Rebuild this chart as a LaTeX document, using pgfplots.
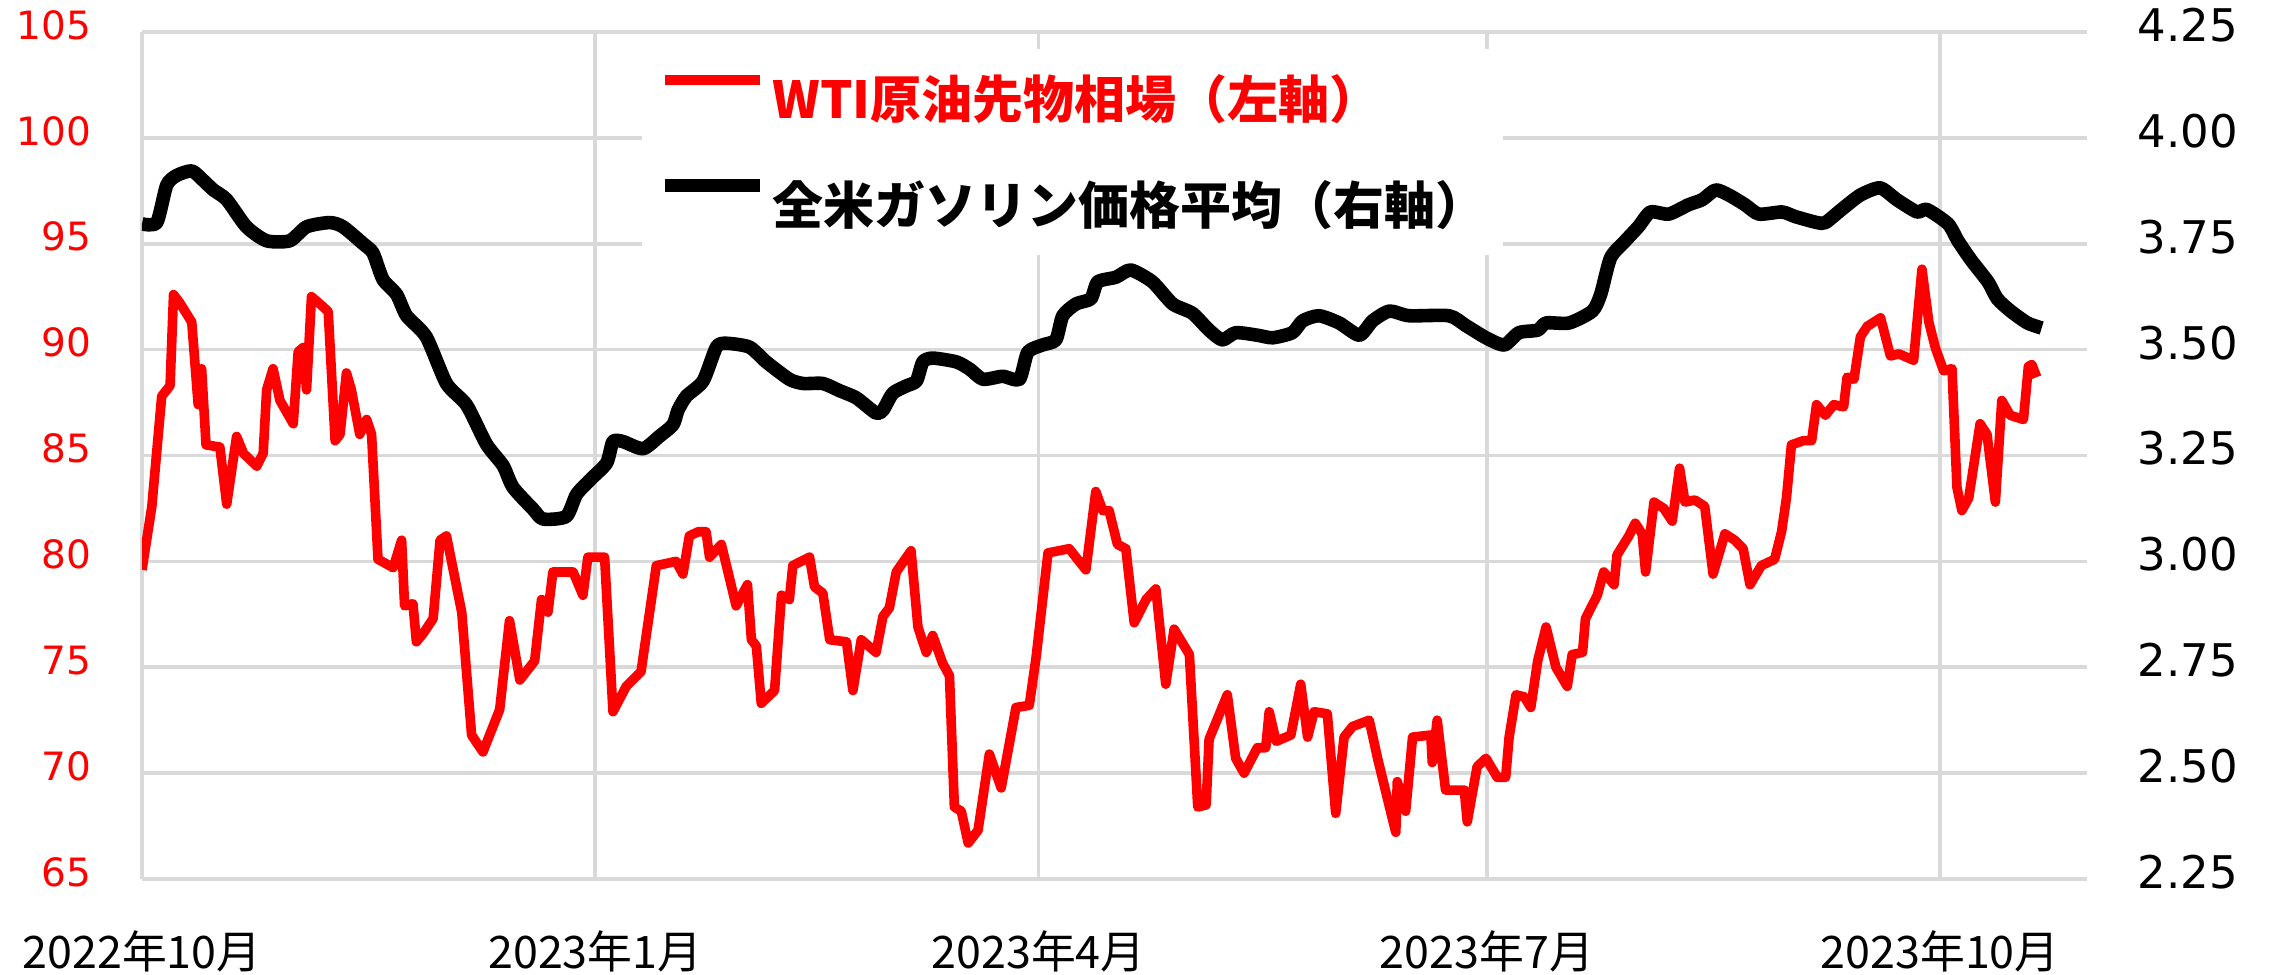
\documentclass[border=0pt]{standalone}
\usepackage{pgfplots}
\pgfplotsset{compat=1.18}
\usepackage{fontspec}
\setmainfont{DejaVu Sans}
\newfontfamily\jp{Noto Sans CJK JP}
\definecolor{gridgray}{HTML}{D9D9D9}
\definecolor{wtired}{HTML}{FF0000}
\begin{document}
\begin{tikzpicture}
\begin{axis}[
  at={(0,0)}, anchor=south west,
  scale only axis, width=486.25pt, height=211.75pt,
  xmin=0, xmax=394.8, ymin=65, ymax=105,
  xtick={0,92,182,273,365},
  xticklabels={2022年10月,2023年1月,2023年4月,2023年7月,2023年10月},
  ytick={65,70,75,80,85,90,95,100,105},
  yticklabels={65,70,75,80,85,90,95,100,105},
  axis x line*=bottom, axis y line*=left,
  axis line style={draw=gridgray, line width=0.9pt, -},
  grid=major, grid style={draw=gridgray, line width=0.9pt},
  major tick length=0pt,
  xticklabel style={font=\jp\fontsize{11.2pt}{11.2pt}\selectfont, anchor=base, inner sep=0pt, yshift=-22.25pt},
  yticklabel style={font=\fontsize{9.75pt}{9.75pt}\selectfont, text=wtired, anchor=east, inner sep=0pt, xshift=-12.5pt, yshift=1.75pt},
]
\addplot[wtired, line width=2.4pt, line join=round] coordinates {
(0,79.6)(2,82.6)(4,87.8)(5.7,88.3)(6.4,92.6)(7.7,92.2)(10.1,91.3)(11.4,87.4)(12.1,89.1)(13,85.5)(15.8,85.4)(17.2,82.7)(19.2,85.9)(20.6,85.1)(23.3,84.5)(24.6,85.1)(25.3,88.1)(26.6,89.1)(28,87.6)(30.7,86.5)(31.7,89.9)(32.7,90.1)(33.4,88.1)(34.4,92.5)(36.4,92.1)(37.8,91.8)(39.2,85.7)(40.2,86.0)(41.5,88.9)(42.5,88.1)(44.2,86.0)(45.6,86.7)(46.6,86.0)(47.9,80.1)(51,79.7)(52.7,81.0)(53.3,77.9)(55,78.0)(55.7,76.2)
(57.1,76.6)(59.1,77.3)(60.5,81.0)(61.8,81.2)(64.9,77.6)(66.9,71.8)(69.2,71.0)(72.6,73.0)(74.6,77.2)(76.7,74.4)(79.7,75.3)(81.1,78.2)(82.4,77.6)(83.4,79.5)(87.5,79.5)(89.5,78.4)(90.5,80.2)(93.9,80.2)(95.6,72.9)(98.3,74.1)(101.3,74.8)(104.4,79.8)(108.4,80.0)(109.8,79.4)(111.1,81.2)(112.9,81.4)
(114.5,81.4)(115.2,80.2)(117.6,80.8)(120.6,77.9)(122.9,78.9)(123.7,76.3)(124.7,76.0)(125.7,73.3)(128.4,73.9)(129.8,78.4)(131.4,78.2)(132.1,79.8)(135.5,80.2)(136.5,78.8)(138.2,78.5)(139.6,76.3)(143,76.2)(144.3,73.9)(146,76.3)(149,75.7)(150.4,77.4)(151.7,77.8)(153.1,79.5)(156.1,80.5)(157.5,76.9)(159.2,75.7)(160.5,76.5)(162.5,75.2)(163.9,74.6)(164.9,68.4)(166.3,68.2)(167.7,66.7)(169.7,67.3)
(172,70.9)(174.4,69.3)(177.4,73.1)(180.1,73.2)(181.5,75.5)(183.9,80.4)(188.2,80.6)(191.6,79.6)(193.6,83.3)(195,82.4)(196.3,82.4)(198,80.8)(199.7,80.6)(201.4,77.1)(203.8,78.2)(205.8,78.7)(207.8,74.2)(209.5,76.8)(212.6,75.6)(214.3,68.4)(216,68.5)(216.6,71.6)(220.3,73.7)(222,70.7)(223.7,70.0)(226.4,71.2)
(228.1,71.2)(228.8,72.9)(230.2,71.5)(233.2,71.8)(235.2,74.2)(236.6,71.7)(237.9,72.9)(240.6,72.8)(242.3,68.1)(244,71.7)(245.7,72.2)(249.1,72.5)(250.8,70.7)(252.8,68.8)(254.5,67.2)(254.8,69.6)(256.5,68.2)(257.9,71.7)(261.6,71.8)(261.9,70.5)(262.9,72.5)(264.6,69.2)(268.4,69.2)(269,67.7)(271,70.3)(272.8,70.7)(275.1,69.8)(276.8,69.8)(277.5,71.7)(278.9,73.7)(280.6,73.6)(281.9,73.1)(283.3,75.3)
(285,76.9)(287,75.0)(289.3,74.1)(290.3,75.6)(292.4,75.7)(293,77.3)(295.4,78.4)(296.7,79.5)(298.8,78.9)(299.4,80.3)(301.8,81.2)(303.1,81.8)(304.5,81.3)(305.2,79.5)(306.9,82.8)(308.9,82.5)(310.6,81.9)(312.1,84.4)(313.2,82.8)(315.2,82.9)(317.2,82.6)(318.9,79.4)(321.3,81.3)(323.3,81.0)(325,80.6)(326.4,78.9)(328.7,79.8)(331.4,80.1)(332.8,81.4)(333.8,83.0)(334.8,85.5)(337.2,85.7)(338.9,85.7)(339.9,87.4)
(341.7,86.9)(343.4,87.4)(345.4,87.3)(346.1,88.7)(347.5,88.6)(348.8,90.6)(350.2,91.1)(352.9,91.5)(354.9,89.7)(356.6,89.8)(359.6,89.5)(361.3,93.8)(362.7,91.3)(364,90.1)(365.7,89.0)(367.4,89.1)(368.4,83.5)(369.4,82.4)(370.8,83.0)(373.1,86.5)(374.5,86.0)(376.2,82.8)(377.5,87.6)(379.2,86.9)(381.9,86.7)(382.9,89.2)(383.6,89.3)(384.6,88.7)
};
\end{axis}
\begin{axis}[
  at={(0,0)}, anchor=south west,
  scale only axis, width=486.25pt, height=211.75pt,
  xmin=0, xmax=394.8, ymin=2.25, ymax=4.25,
  axis x line=none,
  axis y line*=right,
  y axis line style={draw=none},
  ytick={2.25,2.5,2.75,3,3.25,3.5,3.75,4,4.25},
  yticklabels={2.25,2.50,2.75,3.00,3.25,3.50,3.75,4.00,4.25},
  major tick length=0pt,
  yticklabel style={font=\fontsize{11.25pt}{11.25pt}\selectfont, text=black, anchor=west, inner sep=0pt, xshift=12.5pt, yshift=1.75pt},
  legend style={at={(0.2566,0.9811)}, anchor=north west, draw=none, fill=white,
    inner xsep=4pt, inner ysep=6.25pt, row sep=13.5pt,
    font=\jp\bfseries\fontsize{12.75pt}{12.75pt}\selectfont,
    nodes={inner sep=0pt, text height=11.2pt, text depth=1.55pt},
    cells={anchor=west}},
  legend image code/.code={\draw[#1] (0pt,4.8pt) -- (23.75pt,4.8pt);},
]
\addlegendimage{wtired, line width=2.5pt}
\addlegendentry{\textcolor{wtired}{\hspace{1.5pt}WTI原油先物相場（左軸）}}
\addplot[black, line width=3.4pt, line join=round, smooth, tension=0.4] coordinates {
(0,3.797)(3,3.80)(5,3.888)(7,3.911)(10.1,3.922)(12.4,3.90)(14.5,3.877)(17.2,3.854)(21.2,3.79)(25.3,3.757)(30,3.757)(33.4,3.79)(38.1,3.80)(40.8,3.79)(44.9,3.75)(46.9,3.728)(48.9,3.666)(51.7,3.63)(53.7,3.58)(57.7,3.53)(61.8,3.42)(65.9,3.369)(69.9,3.277)(73.3,3.226)(75.3,3.175)(79.4,3.123)(81.4,3.10)(86.1,3.106)(88.2,3.158)(90.9,3.192)(94.3,3.232)(95.6,3.283)(97.6,3.283)(101.7,3.266)(105,3.295)(107.8,3.323)(108.8,3.357)(110.5,3.39)(113.9,3.426)(116.6,3.506)(118.6,3.515)(123.3,3.506)(126.7,3.471)(131.4,3.43)(134.2,3.42)(138.2,3.42)(141.6,3.403)(145,3.386)(149,3.35)(150.4,3.357)(152.4,3.397)(155.1,3.414)(157.2,3.426)(158.5,3.471)(160.5,3.48)(165.3,3.471)(168,3.454)(170.7,3.43)(174.7,3.437)(178.1,3.43)(179.8,3.494)(182.8,3.511)(185.5,3.523)(186.9,3.58)(189.6,3.608)(192.6,3.62)(194,3.66)(197.7,3.671)(200.7,3.688)(205.1,3.66)(209.2,3.608)(213.2,3.586)(216.6,3.546)(219.3,3.523)(222,3.54)(226.4,3.534)(229.5,3.528)(233.5,3.54)(235.6,3.568)(238.9,3.58)(243,3.563)(247.1,3.534)(249.8,3.568)(253.2,3.591)(257.2,3.58)(265.3,3.58)(268.7,3.557)(272.8,3.528)(276.5,3.511)(279.5,3.54)(283.3,3.546)(285,3.563)(289.7,3.563)(294.4,3.591)(296.1,3.631)(298.1,3.717)(301.1,3.757)(303.8,3.791)(306.2,3.825)(309.9,3.82)(313.9,3.842)(316.7,3.854)(319.4,3.877)(322.1,3.865)(325.4,3.842)(328.2,3.82)(332.9,3.825)(335.6,3.814)(340,3.80)(341.7,3.80)(345,3.831)(348.8,3.865)(352.8,3.882)(356.2,3.854)(360.3,3.825)(362.3,3.831)(366.6,3.797)(368.6,3.757)(371.3,3.711)(374.7,3.66)(376.6,3.62)(379.3,3.591)(382.7,3.563)(385.6,3.551)
};
\addlegendentry{\hspace{1.5pt}全米ガソリン価格平均（右軸）\hspace{8pt}}
\end{axis}
\pgfresetboundingbox
\path[use as bounding box] (-35.5pt,-24pt) rectangle (532.5pt,219.75pt);
\end{tikzpicture}
\end{document}
